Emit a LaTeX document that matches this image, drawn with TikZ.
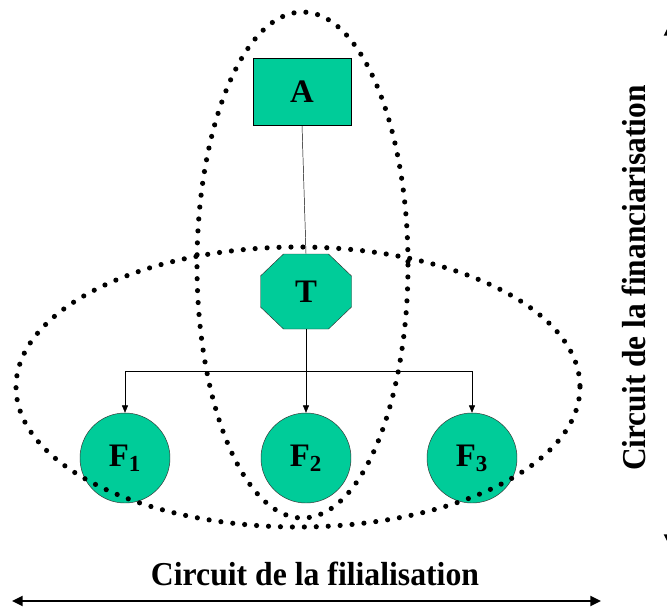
\documentclass[tikz,border=0pt]{standalone}
\usepackage{fontspec}
\setmainfont{Liberation Serif}
\usepackage{tikz}
\usetikzlibrary{arrows.meta}
\definecolor{vertf}{RGB}{0,204,153}

\begin{document}
\begin{tikzpicture}[x=0.03cm,y=-0.03cm,
    box/.style={shape=rectangle, draw, fill=vertf, minimum width=2.94cm, minimum height=2.01cm, font=\fontsize{28}{32}\selectfont\bfseries},
    octo/.style={shape=rectangle, minimum width=2.73cm, minimum height=2.25cm, font=\fontsize{28}{32}\selectfont\bfseries},
    filiale/.style={shape=circle, draw=black!80, fill=vertf, minimum size=2.7cm, inner sep=0pt, font=\fontsize{28}{32}\selectfont\bfseries},
    pointille/.style={line width=4.4pt, dash pattern=on 0pt off 10.2pt, line cap=round},
    fleche/.style={-{Triangle[length=2.2mm,width=1.8mm]}},
    circuit/.style={line width=1.7pt, {Triangle[length=3.2mm,width=3mm]}-{Triangle[length=3.2mm,width=3mm]}},
    titre/.style={font=\fontsize{28.5}{32}\selectfont\bfseries}]
    \useasboundingbox (0,0) rectangle (667,608);

    % actionnaire, holding et filiales
    \node[box] (A) at (302,91.5) {A};
    \draw[draw=black!80, fill=vertf] (283.5,254) -- (328.5,254) -- (351.5,276) -- (351.5,307)
        -- (328.5,329) -- (283.5,329) -- (260.5,307) -- (260.5,276) -- cycle;
    \node[octo] (T) at (306,291.5) {T};
    \node[filiale] (F1) at (125,458) {F\textsubscript{1}};
    \node[filiale] (F2) at (306,458) {F\textsubscript{2}};
    \node[filiale] (F3) at (472,458) {F\textsubscript{3}};

    \coordinate (bus) at (306,371);
    \draw (A.south) -- (T.north);
    \draw (T.south) -- (bus);
    \draw[fleche] (bus) -- (F2);
    \draw[fleche] (bus) -| (F1);
    \draw[fleche] (bus) -| (F3);

    % les deux circuits
    \draw[pointille] (302.5,265) ellipse [x radius=105.5, y radius=253];
    \draw[pointille] (298,387) ellipse [x radius=282, y radius=140];

    \node[titre, xscale=0.95, transform shape] (filial) at (315,574) {Circuit de la filialisation};
    \coordinate (g) at (12,601);
    \coordinate (d) at (601,601);
    \draw[circuit] (g) -- (d);

    \node[titre, rotate=90, xscale=0.94, transform shape] (financ) at (634,278) {Circuit de la financiarisation};
    \coordinate (h) at (669,25);
    \coordinate (b) at (669,545);
    \draw[circuit] (h) -- (b);
\end{tikzpicture}
\end{document}
